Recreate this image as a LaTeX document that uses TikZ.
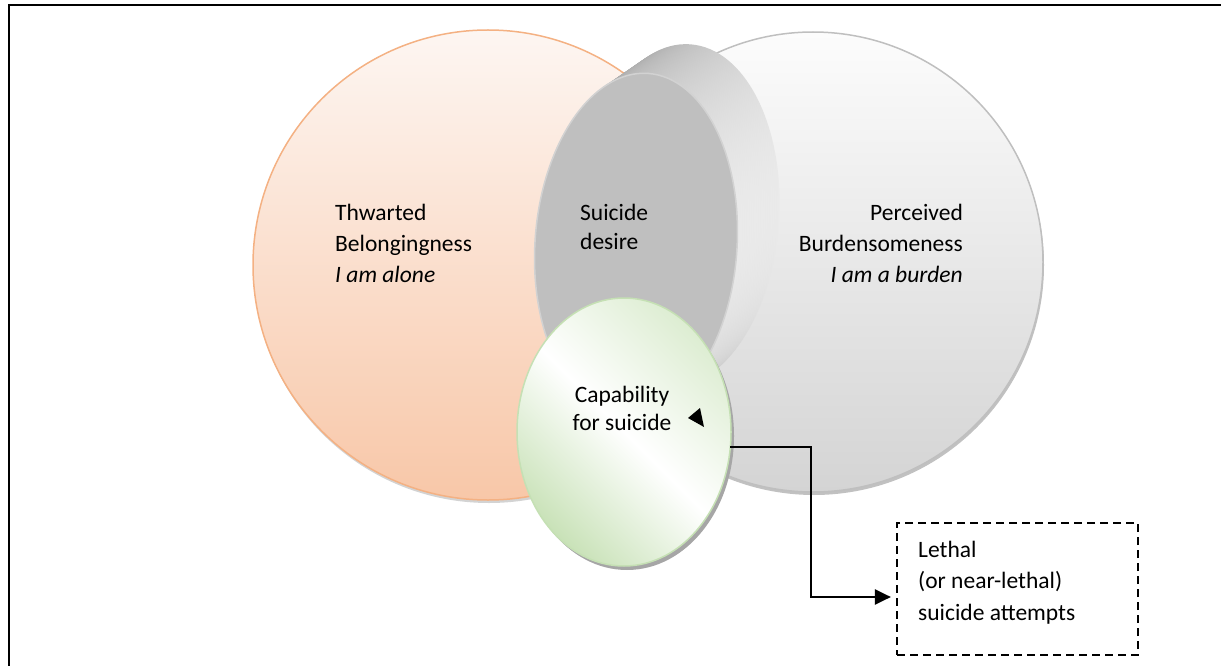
\documentclass[tikz,border=0pt]{standalone}
\usepackage{fontspec}
\setmainfont{Carlito}
\usetikzlibrary{arrows.meta,shapes.geometric}
\definecolor{orngline}{HTML}{F4B183}
\definecolor{orngtop}{HTML}{FDF6F2}
\definecolor{orngbot}{HTML}{F8C7A8}
\definecolor{grayline}{HTML}{BFBFBF}
\definecolor{graytop}{HTML}{FCFCFC}
\definecolor{graybot}{HTML}{D4D4D4}
\definecolor{facegray}{HTML}{BFBFBF}
\definecolor{rimgray}{HTML}{D2D2D2}
\definecolor{extdark}{HTML}{8C8C8C}
\definecolor{extlight}{HTML}{EDEDED}
\definecolor{grnline}{HTML}{C5E0B4}
\definecolor{grndark}{HTML}{C9E2B8}
\definecolor{grnlight}{HTML}{DDEDD2}
\definecolor{shadow}{HTML}{A6A6A6}
\tikzset{
  lbl/.style={font=\fontsize{23.5}{31}\selectfont, inner sep=0pt},
  conn/.style={line width=2.2pt, -{Triangle[length=16pt,width=15pt]}},
  dashbox/.style={draw, line width=2.2pt, dash pattern=on 8pt off 5pt, minimum width=241pt, minimum height=132pt, inner sep=0pt},
}
\begin{document}
\begin{tikzpicture}[x=1pt,y=-1pt]
\useasboundingbox (0,0) rectangle (1221,666);
% outer frame (partially visible)
\draw[line width=2.4pt] (9,690) -- (9,5) -- (1250,5);
% Thwarted belongingness circle
\fill[shadow!50] (489,268) circle (235);
\path[top color=orngtop, bottom color=orngbot, draw=orngline, line width=1.5pt] (488,265) circle (235);
% Perceived burdensomeness circle
\fill[shadow!70] (814,265) circle (230);
\path[top color=graytop, bottom color=graybot, draw=grayline, line width=1.5pt] (813,262) circle (230);
% Suicide desire 3D ellipse
\begin{scope}[shift={(636,245)}, rotate=-4]
  \foreach \i in {0,...,24}{
    \pgfmathsetmacro\ox{40*(1-\i/24)}
    \pgfmathsetmacro\oy{-32*(1-\i/24)}
    \path[left color=extdark, right color=extlight] (\ox,\oy) ellipse [x radius=101, y radius=172];
  }
  \path[fill=facegray, draw=rimgray, line width=1.5pt] (0,0) ellipse [x radius=101, y radius=172];
\end{scope}
% Capability ellipse
\fill[shadow] (627,436) ellipse [x radius=107, y radius=134];
\node[ellipse, minimum width=214pt, minimum height=268pt, inner sep=0pt,
      draw=grnline, line width=1.5pt, shading=axis, top color=grnlight, bottom color=grndark,
      middle color=white, shading angle=-45] (cap) at (624,432) {};
\coordinate (capout) at (730.3,447);
\coordinate (turn) at (811,597);
% Lethal box
\node[dashbox] (lethal) at (1017.5,589) {};
% connector
\draw[conn, shorten >=5pt] (capout) -| (turn) -- (lethal.west |- turn);
% stray arrowhead
\fill (688,418) -- (700,408) -- (704,427) -- cycle;
% texts
\node[lbl, align=left, anchor=base west] (tb) at (335,282) {Thwarted\\Belongingness\\\textit{I am alone}};
\node[lbl, align=right, anchor=base east] (pb) at (963,282) {Perceived\\Burdensomeness\\\textit{I am a burden}};
\node[lbl, align=left, anchor=base west, font=\fontsize{23.5}{29}\selectfont] (sd) at (580,249) {Suicide\\desire};
\node[lbl, align=center, anchor=base, font=\fontsize{23.5}{28}\selectfont] (ct) at (622,430) {Capability\\for suicide};
\node[lbl, align=left, anchor=base west, font=\fontsize{23.5}{31.5}\selectfont] (lt) at (918,620) {Lethal\\(or near-lethal)\\suicide attempts};
\end{tikzpicture}
\end{document}
